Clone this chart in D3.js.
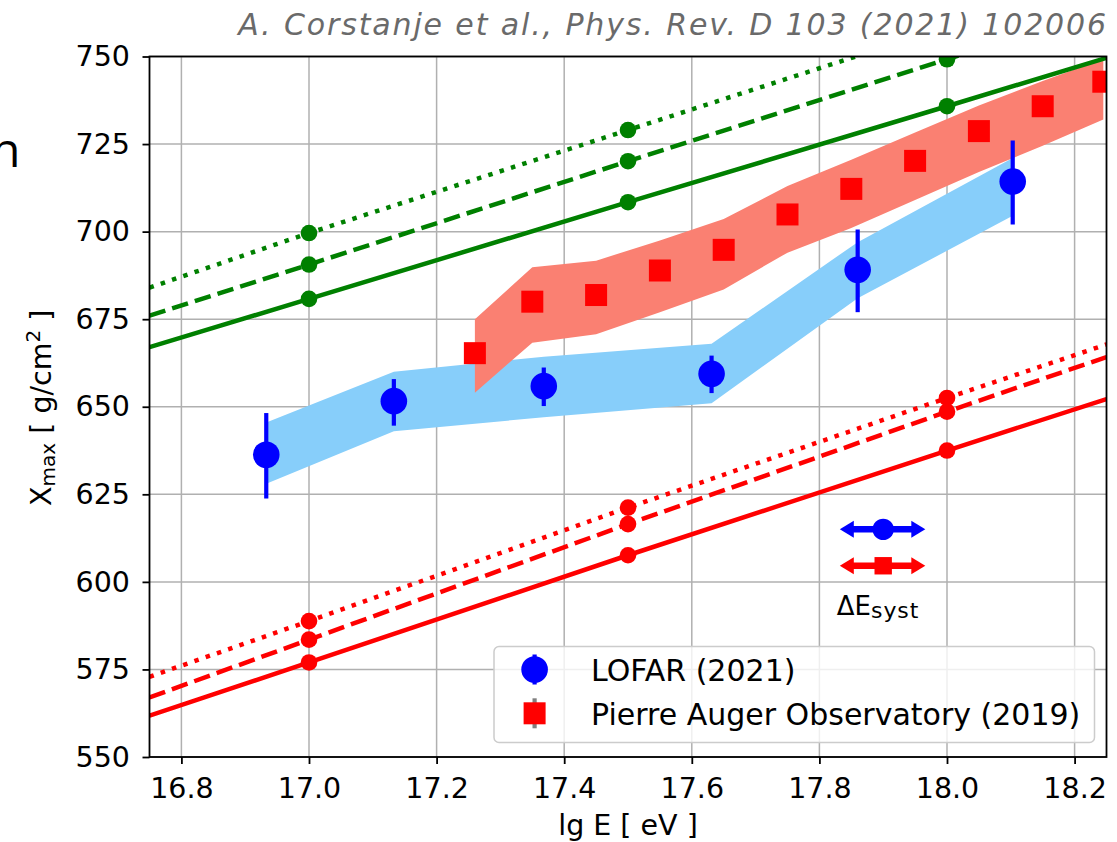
<!DOCTYPE html>
<html><head><meta charset="utf-8">
<script src="https://cdn.jsdelivr.net/npm/d3@7"></script>
<style>body{margin:0;background:#fff}svg{display:block}</style>
</head><body><svg id="c" width="1117" height="842"></svg>
<script>
// ---------------- data ----------------
const xTicks = [16.8, 17.0, 17.2, 17.4, 17.6, 17.8, 18.0, 18.2];
const yTicks = [550, 575, 600, 625, 650, 675, 700, 725, 750];

// model lines evaluated at these lg E values
const lineX = [16.75, 17.0, 17.5, 18.0, 18.25];
const markerX = [17.0, 17.5, 18.0];
const greenSolid  = [667.0, 680.8, 708.4, 735.8, 749.6];
const greenDashed = [676.0, 690.6, 720.1, 749.2, 763.8];
const greenDotted = [684.0, 699.6, 729.0, 758.4, 773.1];
const redSolid    = [561.8, 577.0, 607.6, 637.5, 652.2];
const redDashed   = [567.0, 583.5, 616.5, 648.6, 664.2];
const redDotted   = [572.9, 588.8, 621.2, 652.5, 667.8];

// LOFAR (2021)
const lofarX      = [16.933, 17.133, 17.368, 17.631, 17.86, 18.103];
const lofarY      = [636.3, 651.6, 655.9, 659.4, 689.1, 714.3];
const lofarErrLo  = [623.8, 644.6, 650.2, 653.9, 677.0, 702.0];
const lofarErrHi  = [648.2, 657.9, 661.2, 664.6, 700.6, 726.0];
const lofarBandLo = [628.0, 643.0, 647.0, 651.0, 681.0, 704.5];
const lofarBandHi = [645.5, 660.0, 664.3, 668.0, 697.0, 721.0];

// Pierre Auger Observatory (2019)
const augerX      = [17.26, 17.35, 17.45, 17.55, 17.65, 17.75, 17.85, 17.95, 18.05, 18.15, 18.245];
const augerY      = [665.3, 680.0, 681.9, 688.9, 694.8, 704.9, 712.2, 720.2, 728.7, 735.8, 742.8];
const augerBandLo = [654.0, 668.3, 670.7, 677.0, 683.5, 694.0, 701.0, 709.0, 717.0, 724.5, 732.0];
const augerBandHi = [675.0, 689.8, 691.7, 697.5, 703.6, 713.0, 720.5, 728.3, 736.0, 743.0, 749.3];

// energy-scale systematic indicator
const dEsystX = [17.832, 17.9, 17.966];
const dEsystY = [615.0, 604.6];
const dEsystLabelY = 590.5;

const legendLabels = ["LOFAR (2021)", "Pierre Auger Observatory (2019)"];
const titleText = "A. Corstanje et al., Phys. Rev. D 103 (2021) 102006";

// ---------------- drawing ----------------
const svg = d3.select("#c");
const L = 149.5, R = 1106.5, T = 56.5, B = 757;
const x = d3.scaleLinear().domain([16.75, 18.25]).range([L, R]);
const y = d3.scaleLinear().domain([550, 750]).range([B, T]);
const FONT = "DejaVu Sans";

svg.append("defs").append("clipPath").attr("id", "plotclip")
  .append("rect").attr("x", L).attr("y", T).attr("width", R - L).attr("height", B - T);

// grid
const grid = svg.append("g").attr("stroke", "#b0b0b0").attr("stroke-width", 1.5);
grid.selectAll(".gx").data(xTicks).join("line")
  .attr("x1", d => x(d)).attr("x2", d => x(d)).attr("y1", T).attr("y2", B);
grid.selectAll(".gy").data(yTicks).join("line")
  .attr("y1", d => y(d)).attr("y2", d => y(d)).attr("x1", L).attr("x2", R);

const plot = svg.append("g").attr("clip-path", "url(#plotclip)");

// bands
const area = (xs, lo, hi) => d3.area().x((d, i) => x(xs[i])).y0((d, i) => y(lo[i])).y1((d, i) => y(hi[i]))(xs);
plot.append("path").attr("d", area(lofarX, lofarBandLo, lofarBandHi)).attr("fill", "#87cefa");
plot.append("path").attr("d", area(augerX, augerBandLo, augerBandHi)).attr("fill", "#fa8072");

// model lines
const lines = [
  {v: greenSolid, c: "green", dash: null},
  {v: greenDashed, c: "green", dash: "16.6,7.2"},
  {v: greenDotted, c: "green", dash: "4.5,7.4"},
  {v: redSolid, c: "red", dash: null},
  {v: redDashed, c: "red", dash: "16.6,7.2"},
  {v: redDotted, c: "red", dash: "4.5,7.4"}
];
const lineGen = d3.line().x(d => x(d[0])).y(d => y(d[1]));
lines.forEach(l => {
  const pts = lineX.map((xv, i) => [xv, l.v[i]]);
  plot.append("path").attr("d", lineGen(pts)).attr("fill", "none")
    .attr("stroke", l.c).attr("stroke-width", 4.5)
    .attr("stroke-dasharray", l.dash);
  plot.selectAll(null).data(pts.filter(p => markerX.includes(p[0]))).join("circle")
    .attr("cx", d => x(d[0])).attr("cy", d => y(d[1])).attr("r", 8.3).attr("fill", l.c);
});

// Auger squares
const sq = 22;
plot.selectAll(".aug").data(augerX).join("rect")
  .attr("x", (d) => x(d) - sq / 2).attr("y", (d, i) => y(augerY[i]) - sq / 2)
  .attr("width", sq).attr("height", sq).attr("fill", "red");

// LOFAR points
plot.selectAll(".lerr").data(lofarX).join("line")
  .attr("x1", d => x(d)).attr("x2", d => x(d))
  .attr("y1", (d, i) => y(lofarErrLo[i])).attr("y2", (d, i) => y(lofarErrHi[i]))
  .attr("stroke", "blue").attr("stroke-width", 4.2);
plot.selectAll(".lpt").data(lofarX).join("circle")
  .attr("cx", d => x(d)).attr("cy", (d, i) => y(lofarY[i])).attr("r", 13.3).attr("fill", "blue");

// Delta E syst arrows
function dArrow(yv, col, marker) {
  const g = svg.append("g");
  const x0 = x(dEsystX[0]), xc = x(dEsystX[1]), x1 = x(dEsystX[2]), yy = y(yv);
  const hl = 14, hw = 8.5;
  g.append("line").attr("x1", x0 + hl - 2).attr("x2", x1 - hl + 2).attr("y1", yy).attr("y2", yy)
    .attr("stroke", col).attr("stroke-width", 6.5);
  g.append("path").attr("d", `M${x0},${yy}L${x0 + hl},${yy - hw}L${x0 + hl},${yy + hw}Z`).attr("fill", col);
  g.append("path").attr("d", `M${x1},${yy}L${x1 - hl},${yy - hw}L${x1 - hl},${yy + hw}Z`).attr("fill", col);
  if (marker === "circle") g.append("circle").attr("cx", xc).attr("cy", yy).attr("r", 10.7).attr("fill", col);
  else g.append("rect").attr("x", xc - 8.7).attr("y", yy - 8.7).attr("width", 17.4).attr("height", 17.4).attr("fill", col);
}
dArrow(dEsystY[0], "blue", "circle");
dArrow(dEsystY[1], "red", "square");
const dt = svg.append("text").attr("x", x(dEsystX[0]) - 3).attr("y", y(dEsystLabelY))
  .attr("font-family", FONT).attr("font-size", 26).attr("fill", "#000");
dt.append("tspan").text("ΔE");
dt.append("tspan").text("syst").attr("font-size", 22).attr("dy", 3).attr("letter-spacing", 0.9);

// axes
const ax = svg.append("g").attr("transform", `translate(0,${B})`)
  .call(d3.axisBottom(x).tickValues(xTicks).tickFormat(d3.format(".1f")).tickSize(7).tickPadding(13.8).tickSizeOuter(0));
const ay = svg.append("g").attr("transform", `translate(${L},0)`)
  .call(d3.axisLeft(y).tickValues(yTicks).tickFormat(d3.format("d")).tickSize(7).tickPadding(12.5).tickSizeOuter(0));
[ax, ay].forEach(a => {
  a.select(".domain").remove();
  a.selectAll("line").attr("stroke", "#000").attr("stroke-width", 1.8);
  a.selectAll("text").attr("font-family", FONT).attr("font-size", 28.5).attr("fill", "#000");
});

// spines
svg.append("rect").attr("x", L).attr("y", T).attr("width", R - L).attr("height", B - T)
  .attr("fill", "none").attr("stroke", "#000").attr("stroke-width", 1.8);

// axis labels
svg.append("text").attr("x", (L + R) / 2).attr("y", 835).attr("text-anchor", "middle")
  .attr("font-family", FONT).attr("font-size", 28.5).text("lg E [ eV ]");
const yl = svg.append("text").attr("transform", `translate(51,${y(650) + 1}) rotate(-90)`)
  .attr("text-anchor", "middle").attr("font-family", FONT).attr("font-size", 28.5);
yl.append("tspan").text("X");
yl.append("tspan").text("max").attr("font-size", 20).attr("dy", 4);
yl.append("tspan").text(" [ g/cm").attr("dy", -4);
yl.append("tspan").text("2").attr("font-size", 20).attr("dy", -11);
yl.append("tspan").text(" ]").attr("dy", 11);

// legend
const lg = svg.append("g");
lg.append("rect").attr("x", 494).attr("y", 646.5).attr("width", 600.5).attr("height", 96)
  .attr("rx", 5).attr("fill", "#fff").attr("fill-opacity", 0.8)
  .attr("stroke", "#cccccc").attr("stroke-width", 1.5);
const legX = 534.6, legY = [669.5, 713.3];
lg.append("line").attr("x1", legX).attr("x2", legX).attr("y1", legY[0] - 15).attr("y2", legY[0] + 15)
  .attr("stroke", "blue").attr("stroke-width", 4.2);
lg.append("circle").attr("cx", legX).attr("cy", legY[0]).attr("r", 13.3).attr("fill", "blue");
lg.append("line").attr("x1", legX).attr("x2", legX).attr("y1", legY[1] - 15).attr("y2", legY[1] + 15)
  .attr("stroke", "#808080").attr("stroke-width", 4.2);
lg.append("rect").attr("x", legX - sq / 2).attr("y", legY[1] - sq / 2).attr("width", sq).attr("height", sq).attr("fill", "red");
lg.selectAll(".lt").data(legendLabels).join("text")
  .attr("x", 591).attr("y", (d, i) => legY[i] + 11.5)
  .attr("font-family", FONT).attr("font-size", 30).attr("fill", "#000").text(d => d);

// title (wide oblique face) and slide fragment
const tt = svg.append("text").attr("x", 1108).attr("y", 35).attr("text-anchor", "end")
  .attr("font-family", FONT).attr("font-style", "italic").attr("font-size", 30)
  .attr("fill", "#6a6a6a").text(titleText);
const natural = tt.node().getComputedTextLength();
const target = 868;
tt.attr("letter-spacing", ((target - natural) / (titleText.length - 1)).toFixed(3));
svg.append("text").attr("x", -9).attr("y", 167).attr("font-family", "Open Sans")
  .attr("font-size", 48).attr("fill", "#000").text("n");
</script></body></html>
